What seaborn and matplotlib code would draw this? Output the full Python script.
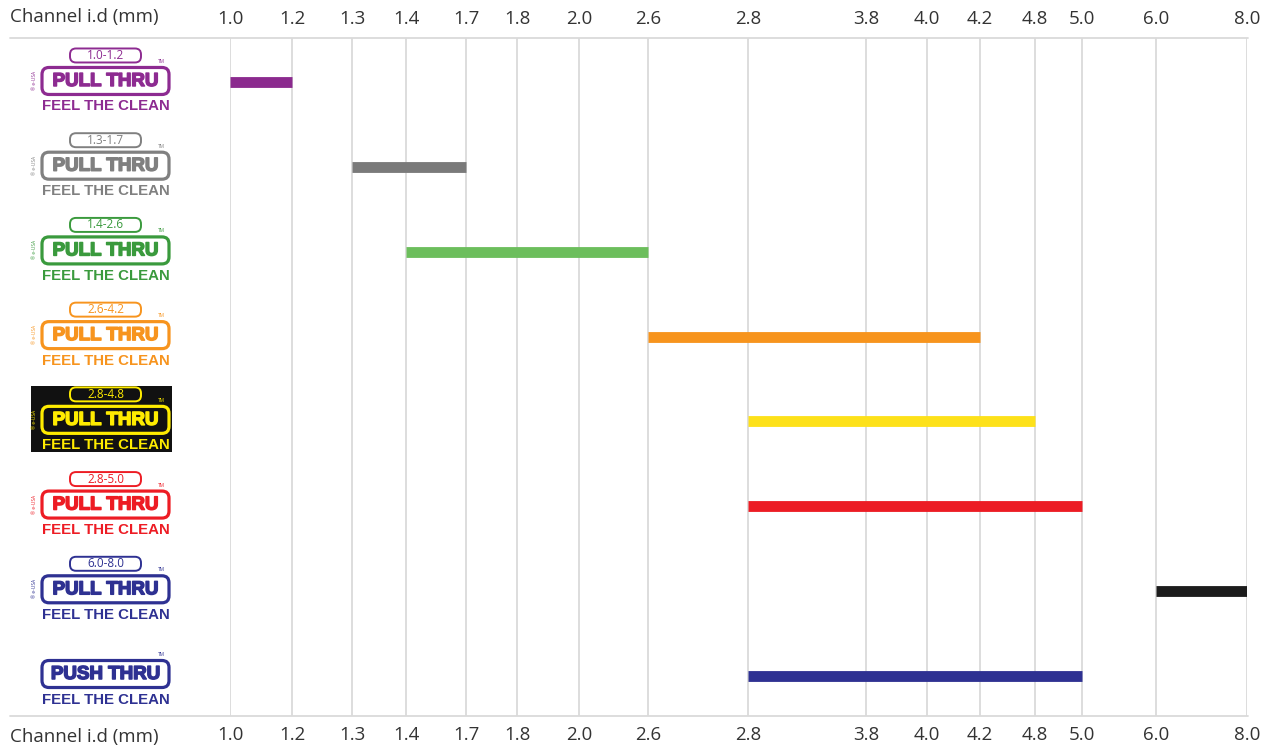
import numpy as np
import pandas as pd
import matplotlib
matplotlib.use("Agg")
import matplotlib.pyplot as plt
import matplotlib.patheffects as pe
from matplotlib.patches import FancyBboxPatch, Rectangle
from matplotlib.lines import Line2D
from matplotlib.transforms import Affine2D
from matplotlib.ticker import NullLocator
import seaborn as sns

# data
tick_vals = [1.0, 1.2, 1.3, 1.4, 1.7, 1.8, 2.0, 2.6, 2.8, 3.8, 4.0, 4.2, 4.8, 5.0, 6.0, 8.0]
products = ["pull 1.0-1.2", "pull 1.3-1.7", "pull 1.4-2.6", "pull 2.6-4.2",
            "pull 2.8-4.8", "pull 2.8-5.0", "pull 6.0-8.0", "push 2.8-5.0"]
names = ["PULL THRU"] * 7 + ["PUSH THRU"]
range_labels = ["1.0-1.2", "1.3-1.7", "1.4-2.6", "2.6-4.2", "2.8-4.8", "2.8-5.0", "6.0-8.0", ""]
starts = [1.0, 1.3, 1.4, 2.6, 2.8, 2.8, 6.0, 2.8]
ends = [1.2, 1.7, 2.6, 4.2, 4.8, 5.0, 8.0, 5.0]

bar_colors = ["#8b2a8e", "#7a7a7a", "#6cbe5c", "#f7941d", "#fde11a", "#ec1c24", "#1c1c1c", "#2e3192"]
logo_colors = ["#8d2b91", "#808080", "#3a9a3d", "#f7941e", "#ffec00", "#ed1c24", "#2e3192", "#2e3192"]
logo_bg = [None, None, None, None, "#111111", None, None, None]

# layout: pixel position of each tick on the irregular axis
grid_px = [230, 292, 352, 406, 466, 517, 579, 648, 748, 866, 927, 980, 1035, 1082, 1156, 1247]

W, H = 1276, 749
sns.set_theme(style="white")
plt.rcParams["font.family"] = ["Open Sans", "DejaVu Sans"]
logo_font = ["Liberation Sans", "DejaVu Sans"]

fig = plt.figure(figsize=(W / 100, H / 100), dpi=100)
ax_l, ax_r, ax_t, ax_b = 230, 1247, 38, 716
ax = fig.add_axes([ax_l / W, 1 - ax_b / H, (ax_r - ax_l) / W, (ax_b - ax_t) / H])

fwd = lambda v: np.interp(v, tick_vals, grid_px)
inv = lambda p: np.interp(p, grid_px, tick_vals)
ax.set_xscale("function", functions=(fwd, inv))

rows = list(range(len(products)))
df = pd.DataFrame({
    "product": products * 2,
    "row": rows * 2,
    "mm": starts + ends,
})
sns.lineplot(data=df, x="mm", y="row", hue="product", units="product", estimator=None,
             palette=dict(zip(products, bar_colors)), lw=7.8, solid_capstyle="butt",
             sort=False, legend=False, ax=ax)

ax.set_xlim(1.0, 8.0)
ax.set_ylim(7.478, -0.525)
ax.set_xticks(tick_vals)
ax.set_xticklabels([f"{v:.1f}" for v in tick_vals])
ax.xaxis.set_minor_locator(NullLocator())
ax.set_yticks([])
ax.set_xlabel("")
ax.set_ylabel("")
ax.tick_params(axis="x", top=True, labeltop=True, bottom=True, labelbottom=True,
               length=0, pad=7, labelsize=13.5, colors="#333333")
ax.grid(axis="x", color="#dadada", lw=1.3)
for s in ax.spines.values():
    s.set_visible(False)

# top and bottom rules running under the row labels too
for yy in (ax_t, ax_b):
    fig.add_artist(Line2D([10 / W, 1248 / W], [1 - yy / H, 1 - yy / H],
                          transform=fig.transFigure, color="#dadada", lw=1.3))
for yy in (17, 737):
    fig.text(10 / W, 1 - yy / H, "Channel i.d (mm)", ha="left", va="center",
             fontsize=13.5, color="#333333")

# product logos, pixel coordinates from the top-left corner
px = Affine2D().scale(1, -1).translate(0, H)
for i in rows:
    c = H - ax.transData.transform((1.0, i))[1] - 2
    col = logo_colors[i]
    bg = logo_bg[i]
    fill = bg if bg else "white"
    if bg:
        fig.add_artist(Rectangle((31, c - 33), 141, 66, transform=px, fc=bg, ec="none"))
    if range_labels[i]:
        fig.add_artist(FancyBboxPatch((70, c - 32), 71, 14, transform=px,
                                      boxstyle="round,pad=0,rounding_size=6",
                                      fc=fill, ec=col, lw=1.4))
        fig.text(105.5, c - 25, range_labels[i], transform=px, ha="center", va="center",
                 fontsize=8.5, color=col)
        fig.text(35, c, "\u00ae e-USA", transform=px, ha="center", va="center",
                 rotation=90, fontsize=3.5, color=col)
    fig.add_artist(FancyBboxPatch((42, c - 13), 127, 27, transform=px,
                                  boxstyle="round,pad=0,rounding_size=7",
                                  fc=fill, ec=col, lw=2.3))
    fig.text(105.5, c + 1, names[i], transform=px, ha="center", va="center",
             fontsize=13.5, fontweight="bold", family=logo_font, color=col,
             path_effects=[pe.withStroke(linewidth=1.1, foreground=col)])
    fig.text(161, c - 19, "TM", transform=px, ha="center", va="center",
             fontsize=3.5, color=col)
    fig.text(106, c + 26, "FEEL THE CLEAN", transform=px, ha="center", va="center",
             fontsize=10.8, fontweight="bold", family=logo_font, color=col)

fig.savefig("out.png", dpi=100)
